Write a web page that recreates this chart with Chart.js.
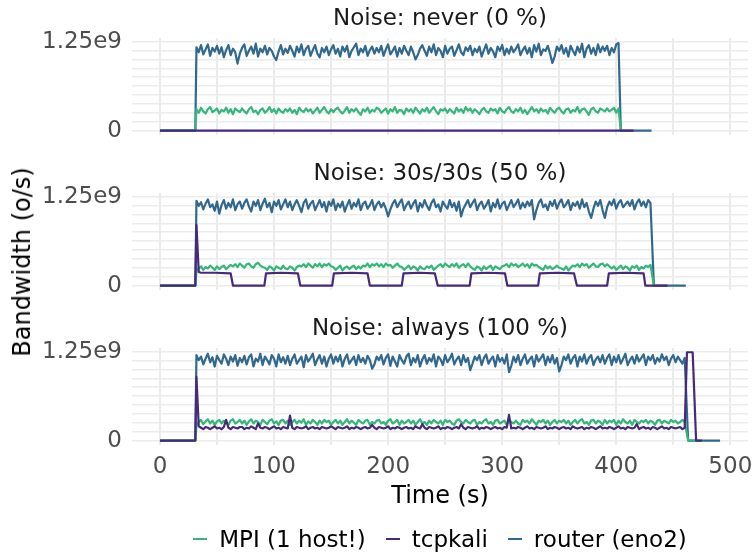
<!DOCTYPE html>
<html>
<head>
<meta charset="utf-8">
<script src="https://cdn.jsdelivr.net/npm/chart.js@4"></script>
<style>
  body { margin: 0; background: #fff; }
  #wrap { position: relative; width: 753px; height: 555px; background: #fff; font-family: 'DejaVu Sans', sans-serif; }
  #wrap canvas { position: absolute; left: 0; top: 0; }
  #ytitle { position: absolute; left: 22px; top: 262px; transform: translate(-50%, -50%) rotate(-90deg); font-size: 24px; color: #000; white-space: nowrap; }
  #legend { position: absolute; left: 132px; width: 616px; top: 526px; display: flex; justify-content: center; font-size: 23px; color: #000; white-space: nowrap; }
  #legend .item { display: flex; align-items: center; margin: 0 10px; }
  #legend .key { width: 14px; height: 2px; margin-right: 12px; }
</style>
</head>
<body>
<div id="wrap">
  <canvas id="c0" width="753" height="555"></canvas>
  <canvas id="c1" width="753" height="555"></canvas>
  <canvas id="c2" width="753" height="555"></canvas>
  <div id="ytitle">Bandwidth (o/s)</div>
  <div id="legend"></div>
</div>
<script>
// bandwidth samples are in units of 1e7 o/s, one sample every 2 s from t = 32 s
const STEP = 2;
const START = 32;
const UNIT = 1e7;

const panelTitles = ['Noise: never (0 %)', 'Noise: 30s/30s (50 %)', 'Noise: always (100 %)'];
const seriesNames = ['MPI (1 host!)', 'tcpkali', 'router (eno2)'];
const seriesColors = ['#35b779', '#46297a', '#31688e'];

const xTickValues = [0, 100, 200, 300, 400, 500];
const xGridStep = 50;
const yTickValues = [0, 1.25e9];
const yTickLabels = ['0', '1.25e9'];
const yGridStep = 1.25e8;

// ---- never (0 %) ----
const routerNever = [
  117,110,120,107,114,121,105,116,111,119, 108,117,103,113,120,106,115,110,94,108,
  116,121,105,112,118,108,122,104,115,110, 119,107,116,112,104,99,111,120,107,115,
  109,119,112,104,118,110,121,106,115,119, 105,113,120,108,103,116,110,118,106,114,
  120,108,115,104,118,111,119,103,112,117, 122,106,115,110,119,105,113,118,108,116,
  110,119,105,114,121,107,112,118,104,116, 108,119,112,106,118,110,100,106,115,120,
  112,105,118,110,121,106,116,112,103,119, 108,115,118,105,113,121,110,106,117,112,
  119,106,115,110,118,104,113,121,108,116, 111,103,118,112,120,106,115,108,118,110,
  115,121,106,113,118,108,116,103,120,111, 122,106,114,112,119,108,95,104,118,112,
  120,108,116,104,119,112,106,118,110,122, 103,115,120,108,116,106,121,110,118,112,
  119,106,116,110,121,123
];
const mpiNever = [
  30,25,32,27,24,30,33,26,28,31, 24,29,27,32,25,30,23,31,28,26,
  31,27,24,30,33,26,28,23,29,31, 25,28,33,26,30,24,31,27,25,30,
  27,31,25,29,23,32,28,26,31,27, 30,24,28,32,25,29,33,27,24,30,
  26,30,32,27,24,28,33,25,30,27, 31,26,22,30,27,32,25,29,27,32,
  30,25,28,31,24,30,27,33,25,29, 28,23,31,27,30,25,32,28,24,30,
  27,32,25,29,33,27,23,30,28,31, 25,30,27,24,32,27,30,25,33,28,
  31,25,30,27,23,29,32,27,25,31, 28,30,24,32,27,25,30,33,27,25,
  30,27,32,25,29,23,28,33,27,30, 25,31,27,29,24,32,28,25,30,32,
  27,24,30,31,25,29,27,33,25,30, 31,27,22,30,32,27,25,31,29,27,
  31,27,29,32,25,31
];
const tcpkaliNever = [];
const routerNeverTail = [[404, 0], [431, 0]];
const mpiNeverTail = [[404, 0], [405, 0]];
const tcpkaliNeverTail = [[415, 0]];

// ---- 30s/30s (50 %) ----
const routerHalf = [
  119,112,117,107,115,121,110,114,105,118, 101,113,120,108,116,110,121,106,114,118,
  108,116,121,111,104,118,112,120,106,115, 122,110,116,103,118,112,120,107,114,121,
  110,118,106,114,120,112,103,116,121,108, 115,119,106,113,120,110,117,104,118,112,
  121,106,115,110,118,104,113,120,108,116, 111,121,106,115,118,108,113,120,106,114,
  118,110,116,108,97,107,115,120,110,116, 121,106,113,118,108,115,120,104,116,110,
  120,112,106,116,121,110,114,104,118,112, 108,120,110,116,105,118,97,108,114,120,
  110,116,121,106,114,118,108,113,120,104, 116,110,121,108,115,118,106,113,120,110,
  115,121,108,116,110,118,112,120,93,106, 116,121,110,114,106,118,112,120,108,116,
  121,110,114,120,106,116,112,118,108,121, 110,116,104,95,108,118,112,120,106,95,
  110,118,113,121,108,116,120,110,114,118, 112,120,107,116,121,112,118,110,120,116
];
const mpiHalf = [
  21,24,27,22,26,24,28,25,22,27, 23,26,28,23,26,29,27,30,26,31,
  28,25,30,31,27,25,30,32,28,26, 25,22,27,25,21,27,25,23,28,24,
  23,27,25,21,26,28,27,30,26,31, 28,25,30,27,31,26,30,28,31,27,
  26,22,25,28,21,25,27,23,26,28, 23,27,24,28,27,31,26,30,28,31,
  27,30,26,31,28,29,25,28,31,27, 26,22,25,28,23,27,25,21,27,24,
  23,27,25,28,22,25,28,30,26,31, 28,26,30,27,31,25,28,30,26,31,
  27,24,22,27,25,21,27,23,26,28, 22,27,25,23,27,28,30,26,31,28,
  30,26,28,31,27,30,25,31,28,29, 26,24,22,28,24,27,23,25,28,25,
  24,22,27,21,25,28,27,30,26,31, 28,30,25,28,31,27,26,30,31,27,
  30,27,24,27,22,25,28,23,27,25, 21,27,25,28,22,26,24,28,26,29
];
// tcpkali switches on/off every 30 s: [time (s), value]
const tcpkaliHalf = [];
const routerHalfTail = [[433, 0], [461, 0]];
const mpiHalfTail = [[433, 0], [434, 0]];
const tcpkaliHalfTail = [
  [32, 85], [34, 19], [36, 18], [48, 18], [62, 17], [64, 0], [91.5, 0],
  [93, 17], [106, 18], [121, 17], [123, 0], [151, 0],
  [152.5, 17], [168, 18], [182, 17], [184, 0], [212, 0],
  [213.5, 17], [228, 18], [241, 17], [243.5, 0], [271.5, 0],
  [273, 17], [288, 18], [302.5, 17], [304.5, 0], [331.5, 0],
  [333, 17], [348, 18], [363, 17], [365.5, 0], [392, 0],
  [393.5, 17], [408, 18], [424, 17], [425.5, 0], [445, 0]
];

// ---- always (100 %) ----
const routerAlways = [
  120,113,118,107,115,122,110,117,104,119, 113,108,121,115,106,118,111,120,105,116,
  110,119,107,117,121,104,115,111,122,106, 118,113,107,120,115,104,121,110,117,108,
  119,106,115,121,108,113,118,103,120,111, 116,122,106,114,120,108,118,104,115,121,
  108,118,111,120,104,115,121,108,113,118, 106,120,110,116,108,119,113,101,107,118,
  113,120,107,116,121,105,118,111,104,120, 113,108,118,122,106,116,110,120,104,114,
  120,108,116,111,121,104,118,114,106,120, 110,115,122,107,114,118,106,120,110,116,
  99,108,118,113,120,106,116,121,108,114, 118,104,120,111,116,108,121,96,105,118,
  110,120,106,115,121,108,114,118,104,120, 111,116,121,106,118,110,120,108,116,97,
  106,118,113,121,108,116,120,104,118,111, 121,108,116,120,106,114,118,110,120,108,
  116,121,106,118,110,120,108,115,122,106, 113,118,108,120,111,116,121,106,118,113,
  120,108,116,111,121,113,118,106,115,120, 110,118,113,108,116
];
const mpiAlways = [
  21,26,29,23,27,30,24,28,22,27, 29,24,28,26,22,28,30,24,26,29,
  24,28,22,27,30,24,28,26,22,29, 26,23,28,30,24,27,22,28,29,24,
  28,22,26,29,24,28,25,30,22,27, 24,29,26,22,28,24,29,26,28,22,
  26,29,24,28,22,26,30,24,28,25, 22,29,26,24,28,29,22,26,24,28,
  29,24,26,22,28,30,24,26,29,22, 28,24,26,29,24,28,22,26,30,24,
  26,22,28,24,29,26,24,28,22,29, 26,28,24,22,28,30,26,24,29,26,
  24,28,29,22,26,24,28,30,24,26, 22,28,29,24,26,28,22,29,26,24,
  28,24,22,29,26,28,24,30,26,22, 28,26,29,24,28,22,26,29,24,28,
  26,29,24,28,22,26,29,24,28,30, 24,26,22,28,29,24,28,26,22,29,
  24,28,26,29,22,28,24,30,26,24, 28,22,29,26,24,28,26,29,24,28,
  26,22,28,29,24,28,26,24,29,26, 28,24,26,29,26
];
const tcpkaliAlways = [
  89,20,18,16,19,18,16,18,20,17, 18,16,19,29,18,16,19,18,17,19,
  19,16,18,17,20,18,16,24,18,17, 19,18,16,18,20,17,18,16,19,18,
  17,35,18,16,19,18,17,18,20,16, 18,19,17,18,16,19,18,17,18,20,
  18,16,19,18,17,18,20,16,18,17, 19,18,16,18,19,17,18,22,18,16,
  19,18,17,18,20,16,18,17,19,18, 16,18,19,17,18,16,20,18,17,23,
  18,16,19,18,17,18,20,16,18,17, 19,18,16,18,19,17,23,18,16,19,
  18,17,18,20,16,18,17,19,18,16, 18,19,17,18,16,19,18,36,17,18,
  17,19,18,16,18,20,17,18,16,19, 18,17,18,20,16,18,17,19,18,16,
  18,19,17,18,16,20,18,17,18,19, 16,18,17,19,18,16,18,20,17,18,
  17,19,18,16,18,20,17,18,16,19, 18,17,18,23,16,18,19,17,18,16,
  19,18,16,18,20,17,18,16,19,18, 17,18,19,16,18
];
const routerAlwaysTail = [[463, 0], [491, 0]];
const mpiAlwaysTail = [[463, 0], [471, 0]];
const tcpkaliAlwaysTail = [[462, 124], [467, 124], [470, 0], [475, 0]];

const leadIn = [[0, 0], [31, 0]];

const panels = [
  { mpi: [mpiNever, mpiNeverTail], tcp: [tcpkaliNever, tcpkaliNeverTail], router: [routerNever, routerNeverTail] },
  { mpi: [mpiHalf, mpiHalfTail], tcp: [tcpkaliHalf, tcpkaliHalfTail], router: [routerHalf, routerHalfTail] },
  { mpi: [mpiAlways, mpiAlwaysTail], tcp: [tcpkaliAlways, tcpkaliAlwaysTail], router: [routerAlways, routerAlwaysTail] }
];

// plot area of each facet (px)
const AREA_LEFT = 132, AREA_RIGHT = 748;
const areaTop = [38, 193, 348];
const areaBottom = [135, 290, 445];
const X_AXIS_H = 70;

Chart.defaults.font.family = "'DejaVu Sans', sans-serif";

function toPoints(samples, tail) {
  const pts = leadIn.map(([x, y]) => ({ x: x, y: y * UNIT }));
  samples.forEach((v, i) => pts.push({ x: START + i * STEP, y: v * UNIT }));
  tail.forEach(([x, y]) => pts.push({ x: x, y: y * UNIT }));
  return pts;
}

function lineSet(name, color, pts) {
  return {
    label: name, data: pts, borderColor: color, borderWidth: 2.2,
    pointRadius: 0, fill: false, tension: 0, borderJoinStyle: 'round'
  };
}

const panelTitle = {
  id: 'panelTitle',
  afterDraw(chart, args, opts) {
    const a = chart.chartArea, ctx = chart.ctx;
    ctx.save();
    ctx.font = "23px 'DejaVu Sans'";
    ctx.fillStyle = '#1a1a1a';
    ctx.textAlign = 'center';
    ctx.textBaseline = 'middle';
    ctx.fillText(opts.text, (a.left + a.right) / 2, a.top - 19);
    ctx.restore();
  }
};

panels.forEach((p, i) => {
  const last = i === panels.length - 1;
  new Chart(document.getElementById('c' + i), {
    type: 'line',
    data: {
      // tcpkali first so it is drawn on top
      datasets: [
        lineSet(seriesNames[1], seriesColors[1], toPoints(p.tcp[0], p.tcp[1])),
        lineSet(seriesNames[0], seriesColors[0], toPoints(p.mpi[0], p.mpi[1])),
        lineSet(seriesNames[2], seriesColors[2], toPoints(p.router[0], p.router[1]))
      ]
    },
    plugins: [panelTitle],
    options: {
      responsive: false,
      animation: false,
      events: [],
      layout: {
        padding: {
          left: 0, right: 753 - AREA_RIGHT, top: areaTop[i],
          bottom: 555 - areaBottom[i] - (last ? X_AXIS_H : 0)
        }
      },
      plugins: {
        legend: { display: false },
        tooltip: { enabled: false },
        panelTitle: { text: panelTitles[i] }
      },
      scales: {
        x: {
          type: 'linear', min: -24.5, max: 515.5,
          border: { display: false },
          grid: { color: '#ebebeb', lineWidth: 2, drawTicks: false },
          ticks: {
            display: last, color: '#4d4d4d', font: { size: 23 }, padding: 8,
            maxRotation: 0, autoSkip: false,
            callback: v => xTickValues.includes(v) ? String(v) : ''
          },
          title: {
            display: last, text: 'Time (s)', color: '#000',
            font: { size: 24 }, padding: { top: 0, bottom: 4 }
          },
          afterBuildTicks(s) {
            const t = [];
            for (let v = 0; v <= 500; v += xGridStep) t.push({ value: v });
            s.ticks = t;
          },
          afterFit(s) {
            s.height = last ? X_AXIS_H : 0;
            s.paddingLeft = 0; s.paddingRight = 0;
          }
        },
        y: {
          type: 'linear', min: -0.0625e9, max: 1.3e9,
          border: { display: false },
          grid: { color: '#ececec', lineWidth: 1.5, drawTicks: false },
          ticks: {
            color: '#4d4d4d', font: { size: 23 }, padding: 10, autoSkip: false,
            callback: v => {
              const k = yTickValues.indexOf(v);
              return k < 0 ? '' : yTickLabels[k];
            }
          },
          afterBuildTicks(s) {
            const t = [];
            for (let k = 0; k <= 10; k++) t.push({ value: k * yGridStep });
            s.ticks = t;
          },
          afterFit(s) {
            s.width = AREA_LEFT;
            s.paddingTop = 0; s.paddingBottom = 0;
          }
        }
      }
    }
  });
});

// shared legend under the facets
const legend = document.getElementById('legend');
seriesNames.forEach((name, i) => {
  const item = document.createElement('div');
  item.className = 'item';
  const key = document.createElement('span');
  key.className = 'key';
  key.style.background = seriesColors[i];
  const label = document.createElement('span');
  label.textContent = name;
  item.appendChild(key);
  item.appendChild(label);
  legend.appendChild(item);
});
</script>
</body>
</html>
